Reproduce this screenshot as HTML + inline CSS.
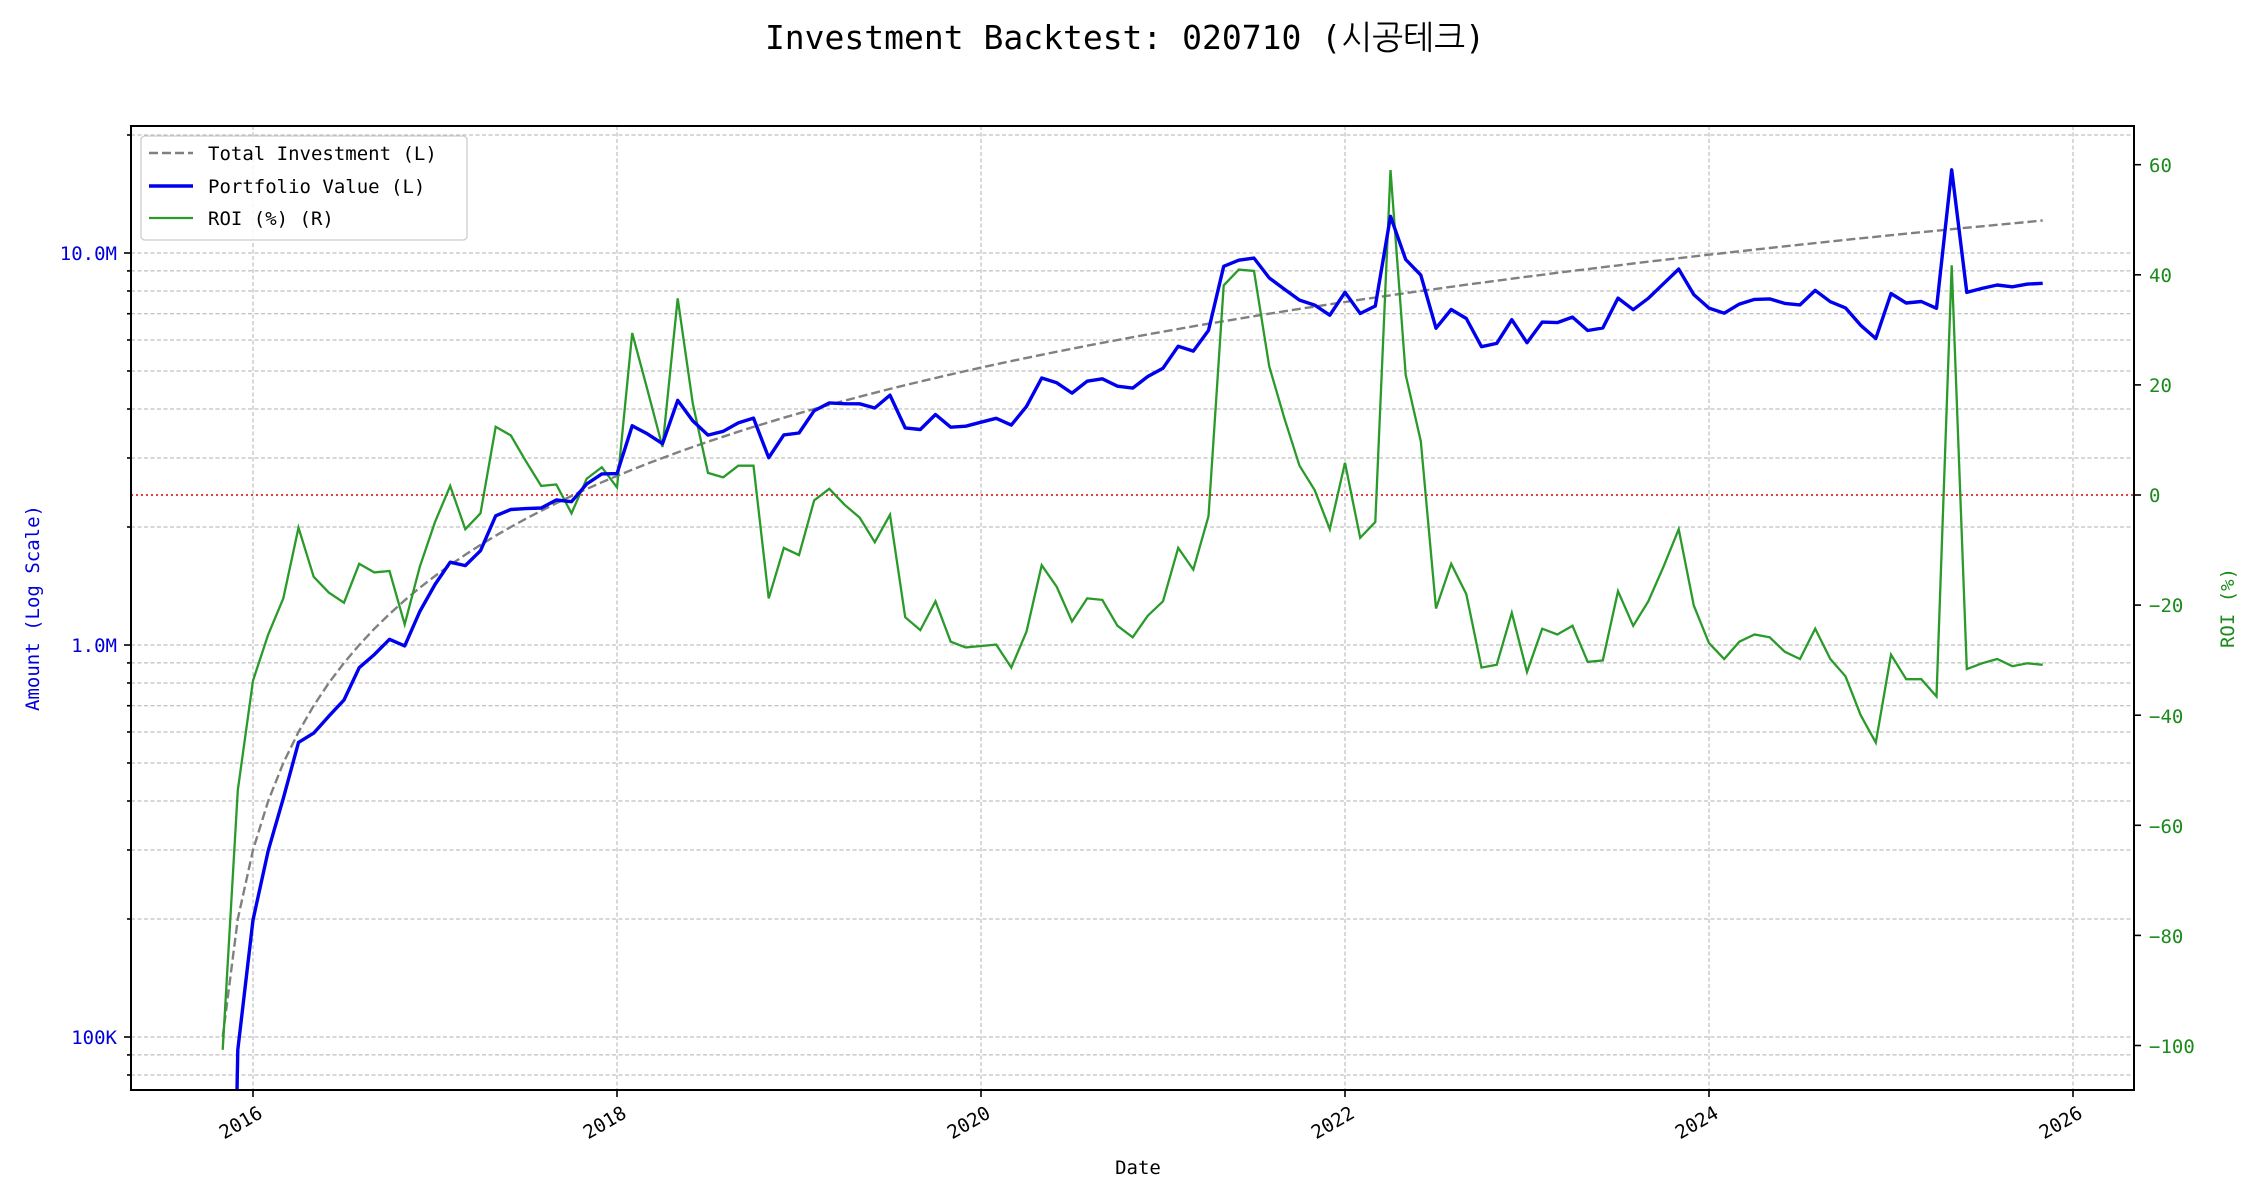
<!DOCTYPE html>
<html><head><meta charset="utf-8"><style>
html,body{margin:0;padding:0;background:#fff;width:2250px;height:1200px;overflow:hidden;}
svg{display:block;}
text{font-family:"DejaVu Sans Mono","Liberation Mono","NanumGothic",monospace;}
</style></head><body>
<svg id="s" width="2250" height="1200" viewBox="0 0 2250 1200" xmlns="http://www.w3.org/2000/svg">
<defs><clipPath id="c"><rect x="131" y="126" width="2003" height="964"/></clipPath></defs>
<rect width="2250" height="1200" fill="#fff"/>
<g id="grid" stroke="#b0b0b0" stroke-width="1" stroke-dasharray="4,2.5" fill="none"></g>
<line x1="131" y1="495" x2="2134" y2="495" stroke="#e00000" stroke-width="1.6" stroke-dasharray="2,3"/>
<g clip-path="url(#c)">
<path id="inv" fill="none" stroke="#808080" stroke-width="2.4" stroke-dasharray="9,4"/>
<path id="roi" fill="none" stroke="#2a9a2a" stroke-width="2.3"/>
<path id="pv" fill="none" stroke="#0000ee" stroke-width="3.4" stroke-linejoin="round"/>
</g>
<rect x="131" y="126" width="2003" height="964" fill="none" stroke="#000" stroke-width="2"/>
<g id="ticks" stroke="#000" stroke-width="1.6"></g>
<g font-size="19" fill="#0000dd" text-anchor="end">
<text x="117" y="260">10.0M</text><text x="117" y="652">1.0M</text><text x="117" y="1044">100K</text>
</g>
<g font-size="19" fill="#1a8a1a" text-anchor="start">
<text x="2149" y="172">60</text><text x="2149" y="282">40</text><text x="2149" y="392">20</text><text x="2149" y="502">0</text>
<text x="2149" y="612">−20</text><text x="2149" y="723">−40</text><text x="2149" y="833">−60</text><text x="2149" y="943">−80</text><text x="2149" y="1053">−100</text>
</g>
<g id="years" font-size="19" fill="#000" text-anchor="end"></g>
<text x="1125" y="49" font-size="33" text-anchor="middle" fill="#000">Investment Backtest: 020710 (시공테크)</text>
<text x="1138" y="1174" font-size="19" text-anchor="middle" fill="#000">Date</text>
<text transform="translate(39,608) rotate(-90)" font-size="19" text-anchor="middle" fill="#0000dd">Amount (Log Scale)</text>
<text transform="translate(2234,608) rotate(-90)" font-size="19" text-anchor="middle" fill="#1a8a1a">ROI (%)</text>
<rect x="141" y="136" width="326" height="104" rx="4" fill="#fff" fill-opacity="0.85" stroke="#cccccc" stroke-width="1.3"/>
<line x1="149" y1="153" x2="193" y2="153" stroke="#808080" stroke-width="2.4" stroke-dasharray="9,4"/>
<line x1="149" y1="186" x2="193" y2="186" stroke="#0000ee" stroke-width="3.4"/>
<line x1="149" y1="218" x2="193" y2="218" stroke="#2a9a2a" stroke-width="2.3"/>
<g font-size="19" fill="#000"><text x="208" y="160">Total Investment (L)</text><text x="208" y="193">Portfolio Value (L)</text><text x="208" y="225">ROI (%) (R)</text></g>
</svg>
<script>
var NS="http://www.w3.org/2000/svg";
function el(p,t,a,txt){var e=document.createElementNS(NS,t);for(var k in a)e.setAttribute(k,a[k]);if(txt)e.textContent=txt;p.appendChild(e);return e;}
var d=[728,548,472,440,415,366,400,411,418,391,397,396,433,393,362,337,367,356,296,302,320,337,336,356,332,324,338,
231,270,310,207,280,328,331,323,323,415,380,385,347,339,350,359,376,357,428,437,417,445,449,448,447,463,438,392,407,431,415,416,434,442,427,417,380,395,358,198,187,188,254,290,323,340,367,321,373,362,118,260,306,422,391,412,463,461,425,466,436,440,434,459,458,410,434,417,393,367,420,446,457,445,440,442,452,457,436,457,469,496,515,454,471,471,483,184,464,460,457,462,460,461];
function X(k){return 253+(k-2)*182/12;}
function YL(v){return 253-(Math.log10(v)-7)*392;}
function YR(r){return 495-r*5.505;}
var inv="",roi="",pv="";
for(var k=0;k<d.length;k++){
 var r=(343.3-d[k])/3.817; var I=100000*(k+1); var P=Math.max(I*(1+r/100),1000);
 var x=X(k).toFixed(1);
 inv+=(k?"L":"M")+x+","+YL(I).toFixed(1);
 roi+=(k?"L":"M")+x+","+YR(r).toFixed(1);
 pv+=(k?"L":"M")+x+","+YL(P).toFixed(1);
}
document.getElementById("inv").setAttribute("d",inv);
document.getElementById("roi").setAttribute("d",roi);
document.getElementById("pv").setAttribute("d",pv);
var g=document.getElementById("grid"),t=document.getElementById("ticks"),yr=document.getElementById("years");
for(var y=2016;y<=2026;y+=2){var x=253+(y-2016)*182;el(g,"line",{x1:x,y1:126,x2:x,y2:1090});el(t,"line",{x1:x,y1:1090,x2:x,y2:1097});
 el(yr,"text",{transform:"translate("+(x+4)+",1105) rotate(-30)","dominant-baseline":"hanging"},String(y));}
for(var e=4;e<=7;e++)for(var m=1;m<10;m++){var v=m*Math.pow(10,e);var yy=YL(v);if(yy<126||yy>1090)continue;
 el(g,"line",{x1:131,y1:yy,x2:2134,y2:yy});el(t,"line",{x1:m==1?124:127,y1:yy,x2:131,y2:yy});}
for(var r=-100;r<=60;r+=20){var yy=YR(r);el(t,"line",{x1:2134,y1:yy,x2:2141,y2:yy});}
</script>
</body></html>
